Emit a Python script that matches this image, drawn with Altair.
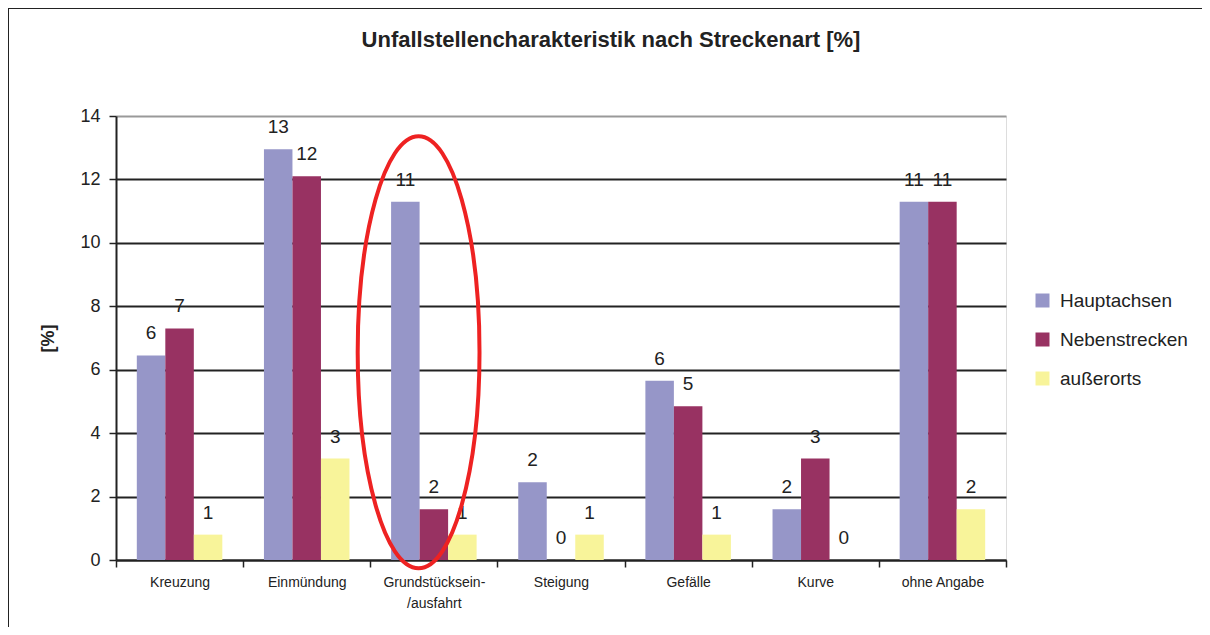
import altair as alt
import pandas as pd

# ---------------- data ----------------
categories = ["Kreuzung", "Einmündung", "Grundstücksein-/ausfahrt", "Steigung",
              "Gefälle", "Kurve", "ohne Angabe"]
series = ["Hauptachsen", "Nebenstrecken", "außerorts"]
hauptachsen = [6.45, 12.95, 11.3, 2.45, 5.65, 1.6, 11.3]
nebenstrecken = [7.3, 12.1, 1.6, 0.0, 4.85, 3.2, 11.3]
ausserorts = [0.8, 3.2, 0.8, 0.8, 0.8, 0.0, 1.6]
colors = ["#9696C8", "#983262", "#F8F49A"]
y_ticks = [0, 2, 4, 6, 8, 10, 12, 14]
chart_title = "Unfallstellencharakteristik nach Streckenart [%]"
y_title = "[%]"
highlight = {"Kategorie": ["Grundstücksein-/ausfahrt"], "Wert": [6.55]}

rows = []
for s, vals in zip(series, [hauptachsen, nebenstrecken, ausserorts]):
    for c, v in zip(categories, vals):
        rows.append({"Kategorie": c, "Streckenart": s, "Wert": v})
df = pd.DataFrame(rows)

FONT = "Liberation Sans"
INK = "#222222"

x_scale = alt.Scale(domain=categories, paddingInner=0, paddingOuter=0)
x_axis = alt.Axis(
    title=None, labelAngle=0, labelFontSize=14, labelColor=INK, labelFont=FONT,
    tickBand="extent", tickSize=7, tickColor=INK, tickWidth=1.5,
    domainColor=INK, domainWidth=2, labelPadding=8, labelLineHeight=21,
    labelBaseline="top", grid=False,
    labelExpr="datum.label == 'Grundstücksein-/ausfahrt' ? ['Grundstücksein-', '/ausfahrt'] : datum.label",
)
x_enc = alt.X("Kategorie:N", sort=categories, scale=x_scale, axis=x_axis)
xoff_enc = alt.XOffset("Streckenart:N", sort=series,
                       scale=alt.Scale(domain=series, paddingOuter=0.73, paddingInner=0))
y_enc = alt.Y(
    "Wert:Q",
    scale=alt.Scale(domain=[0, 14], nice=False, zero=True),
    axis=alt.Axis(
        values=y_ticks, title=y_title, titleFontSize=18, titleFontWeight="bold",
        titleColor=INK, titleFont=FONT, titlePadding=22,
        labelFontSize=18, labelColor=INK, labelFont=FONT, labelPadding=9,
        tickSize=7, tickColor=INK, tickWidth=1.5, domainColor=INK, domainWidth=2,
        gridColor={"condition": {"test": "datum.value >= 14", "value": "#999999"}, "value": INK},
        gridWidth=2, labelFlush=False,
    ),
)

bars = alt.Chart(df).mark_bar().encode(
    x=x_enc, xOffset=xoff_enc, y=y_enc,
    color=alt.Color(
        "Streckenart:N", sort=series,
        scale=alt.Scale(domain=series, range=colors),
        legend=alt.Legend(
            title=None, orient="none", legendX=917, legendY=175,
            symbolType="square", symbolSize=196, symbolStrokeWidth=0,
            labelFontSize=19, labelFont=FONT, labelColor=INK, labelOffset=8,
            rowPadding=19, padding=0,
        ),
    ),
)

labels = alt.Chart(df).mark_text(
    fontSize=19, font=FONT, color=INK, baseline="alphabetic", dy=-16
).encode(
    x=x_enc, xOffset=xoff_enc, y=y_enc,
    text=alt.Text("Wert:Q", format=".0f"),
)

ellipse_path = "M -0.282 0 A 0.282 1 0 1 0 0.282 0 A 0.282 1 0 1 0 -0.282 0 Z"
ellipse = alt.Chart(pd.DataFrame(highlight)).mark_point(
    shape=ellipse_path, size=186624, filled=False, color="#EE2222",
    strokeWidth=4, opacity=1,
).encode(
    x=alt.X("Kategorie:N", sort=categories, scale=x_scale, axis=x_axis, bandPosition=0.38),
    y=y_enc,
)

frame_df = pd.DataFrame({"f": [0]})
frame_top = alt.Chart(frame_df).mark_rule(color=INK, strokeWidth=2).encode(
    x=alt.value(-108), x2=alt.value(1200), y=alt.value(-108))
frame_left = alt.Chart(frame_df).mark_rule(color=INK, strokeWidth=2).encode(
    x=alt.value(-108), y=alt.value(-108), y2=alt.value(700))

chart = alt.layer(bars, labels, ellipse, frame_top, frame_left).properties(
    width=890, height=444,
    autosize=alt.AutoSizeParams(type="none"),
    padding={"left": 108, "top": 108, "right": 196, "bottom": 67},
    title=alt.TitleParams(
        chart_title, fontSize=22, fontWeight="bold", font=FONT, color=INK,
        anchor="middle", frame="group", dx=50, offset=-45,
    ),
).configure_view(stroke="#999999", strokeWidth=1.5).configure(background="white")

chart.save("out.html", embed_options={"renderer": "svg", "actions": False})
